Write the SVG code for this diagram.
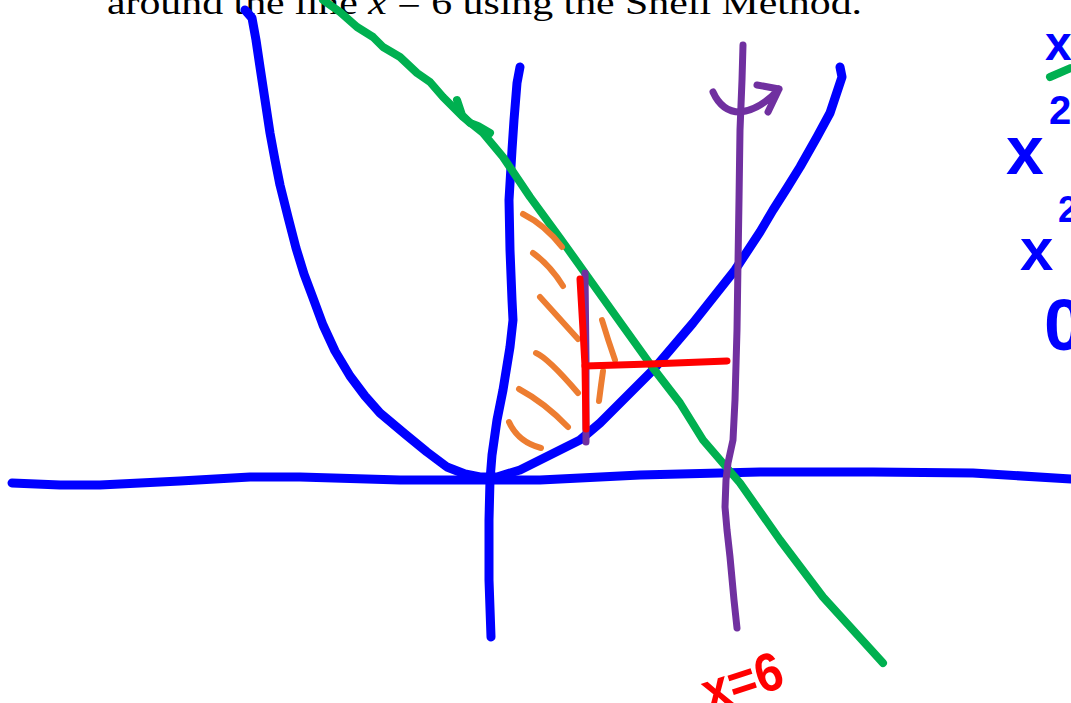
<svg xmlns="http://www.w3.org/2000/svg" width="1071" height="703" viewBox="0 0 1071 703">
<style>
.s{fill:none;stroke-linecap:round;stroke-linejoin:round}
.blue{stroke:#0000ff;stroke-width:9}
.green{stroke:#00b050;stroke-width:8}
.purple{stroke:#7030a0;stroke-width:7}
.red{stroke:#ff0000;stroke-width:7}
.orange{stroke:#ed7d31;stroke-width:6}
.hw{font-family:"Liberation Sans",Arial,sans-serif;font-weight:bold}
</style>
<rect width="1071" height="703" fill="#ffffff"/>
<g id="title">
<text x="107" y="14" font-family="'Liberation Serif','Times New Roman',serif" font-size="34" fill="#000" textLength="755" lengthAdjust="spacingAndGlyphs">around the line <tspan font-style="italic">x</tspan> = 6 using the Shell Method.</text>
</g>
<g id="connectors">
<path id="x-axis" class="s blue" d="M12,483 L60,485 L100,485 L180,481 L250,477 L300,477 L400,480 L467,480 L540,480 L640,475 L760,472 L873,472 L973,473 L1071,479"/>
<path id="y-axis" class="s blue" d="M520,67 L517,83 L514,120 L512,150 L509,200 L510,250 L512,300 L513,320 L510,347 L503,390 L497,420 L492,455 L490,480 L489,520 L489,580 L491,637"/>
<path id="parabola" class="s blue" d="M245,10 L252,18 L256,40 L260,67 L265,100 L270,133 L275,160 L280,185 L288,217 L296,248 L304,274 L313,298 L323,325 L335,351 L350,376 L365,396 L380,413 L405,434 L427,452 L447,467 L465,474 L480,477 L497,477 L520,470 L540,460 L580,440 L600,423 L620,403 L653,370 L693,323 L735,270 L760,232 L773,210 L787,188 L800,167 L817,137 L830,113 L837,92 L842,77 L840,67"/>
<path id="line" class="s green" d="M323,0 L340,12 L357,27 L373,37 L383,47 L400,57 L417,73 L430,82 L443,97 L463,117 L483,133 L503,157 L530,197 L560,238 L590,280 L620,322 L653,368 L680,403 L703,440 L740,483 L780,540 L823,597 L853,630 L883,663"/>
<path class="s green" d="M457,100 L462,115 L470,123 L478,126 L490,133"/>
<path id="axis-x6" class="s purple" d="M743,45 L742,80 L740,130 L739,200 L738,263 L737,330 L735,400 L733,440 L728,463 L726,480 L725,507 L727,530 L730,557 L734,600 L737,628"/>
<path id="rotation" class="s purple" d="M713,92 Q722,112 740,112 Q760,110 779,89 M757,85 L779,89 L768,112"/>
<g id="hatch">
<path class="s orange" d="M523,214 Q545,225 562,247"/>
<path class="s orange" d="M533,253 Q550,265 563,286"/>
<path class="s orange" d="M540,297 L578,339"/>
<path class="s orange" d="M536,353 Q548,358 578,393"/>
<path class="s orange" d="M519,389 Q545,403 568,427"/>
<path class="s orange" d="M509,422 Q518,442 541,448"/>
<path class="s orange" d="M602,320 Q608,340 615,360"/>
<path class="s orange" d="M603,371 Q601,385 599,401"/>
</g>
<path id="shell" class="s purple" d="M585,273 L586,360 L586,442"/>
<path id="height" class="s red" d="M580,279 L583,330 L585,366 L586,429"/>
<path id="radius" class="s red" d="M585,366 L650,364 L727,361"/>
</g>
<g id="label-x6">
<text class="hw" x="700" y="700" font-size="54" fill="#ff0000" textLength="82" lengthAdjust="spacingAndGlyphs" transform="rotate(-18 740 678)">x=6</text>
</g>
<g id="side-notes" fill="#0000ff">
<text class="hw" x="1045" y="60" font-size="48">x</text>
<line class="s green" x1="1050" y1="77" x2="1071" y2="68"/>
<text class="hw" x="1049" y="124" font-size="40">2</text>
<text class="hw" x="1006" y="174" font-size="68">x</text>
<text class="hw" x="1058" y="222" font-size="36">2</text>
<text class="hw" x="1020" y="270" font-size="60">x</text>
<text class="hw" x="1044" y="350" font-size="72">0</text>
</g>
</svg>
